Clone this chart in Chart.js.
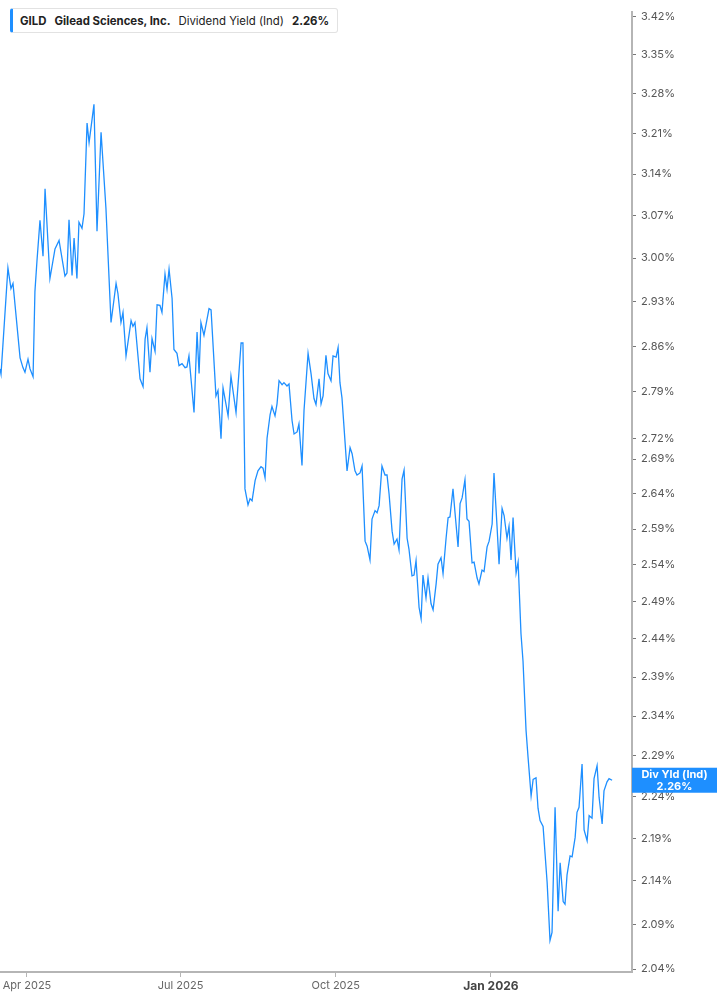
<!DOCTYPE html>
<html>
<head>
<meta charset="utf-8">
<script src="https://cdn.jsdelivr.net/npm/chart.js@4.4.1/dist/chart.umd.min.js"></script>
<style>
  body { margin: 0; background: #fff; font-family: Inter, "Noto Sans", sans-serif; }
  #wrap { position: relative; width: 717px; height: 1005px; }
  #legend {
    position: absolute; left: 10px; top: 8px; height: 25px; width: 328px;
    box-sizing: border-box; border: 1px solid #e2e2e2; border-left: 3px solid #1e8fff;
    border-radius: 3px; background: #fff; display: flex; align-items: center;
    padding-left: 7px; font-size: 11.4px; color: #222; white-space: nowrap;
  }
  #legend b { font-weight: 700; }
  #legend span { margin-right: 8px; }
</style>
</head>
<body>
<div id="wrap">
  <canvas id="chartCanvas" width="717" height="1005"></canvas>
  <div id="legend">
    <span><b>GILD</b></span>
    <span><b>Gilead Sciences, Inc.</b></span>
    <span>Dividend Yield (Ind)</span>
    <span><b>2.26%</b></span>
  </div>
</div>
<script>
"use strict";

// days counted from 1 Mar 2025
const days = [
  15.0, 15.6, 19.7, 21.5, 22.7, 26.9, 28.6, 29.8, 31.6, 32.8, 34.6, 35.7, 36.9, 38.7, 40.5, 41.7,
  44.6, 47.6, 50.0, 53.5, 54.7, 55.9, 57.7, 58.9, 60.6, 61.8, 63.6, 64.8, 66.6, 67.8, 70.7, 72.5,
  74.9, 77.8, 80.8, 83.8, 84.9, 86.7, 87.9, 89.7, 92.7, 93.8, 95.0, 98.0, 99.8, 101.0, 102.1, 103.9,
  105.1, 106.9, 108.1, 109.8, 111.0, 112.8, 114.0, 115.2, 117.0, 118.1, 119.9, 121.1, 122.9, 124.7,
  125.8, 127.0, 130.0, 131.8, 133.0, 134.1, 135.9, 138.9, 140.1, 143.0, 144.2, 146.0, 147.2, 150.2,
  151.9, 154.9, 157.9, 159.0, 160.2, 162.0, 163.2, 164.4, 166.2, 167.9, 169.7, 170.9, 172.1, 173.3,
  175.1, 176.2, 178.0, 179.2, 180.4, 182.2, 183.3, 185.1, 186.3, 188.1, 189.3, 191.1, 192.2, 194.0,
  195.2, 197.6, 199.4, 201.1, 202.3, 204.1, 205.3, 206.5, 208.2, 209.4, 211.2, 212.4, 214.2, 215.4,
  216.5, 217.7, 220.7, 222.5, 223.7, 225.4, 226.6, 228.4, 229.6, 231.4, 232.6, 234.3, 235.5, 237.3,
  238.5, 239.7, 241.4, 243.2, 244.4, 245.6, 247.4, 248.6, 250.3, 251.5, 253.3, 254.5, 256.3, 257.4,
  259.2, 260.4, 261.6, 263.4, 264.6, 265.7, 267.5, 268.7, 270.5, 271.7, 273.5, 274.6, 276.4, 277.6,
  279.4, 280.6, 281.7, 283.5, 284.7, 286.5, 287.7, 288.9, 290.6, 291.8, 293.0, 294.8, 296.0, 297.8,
  298.9, 300.7, 301.9, 303.7, 304.9, 306.7, 307.8, 309.6, 310.8, 312.6, 313.8, 315.5, 316.7, 317.9,
  319.1, 320.9, 322.1, 323.8, 325.0, 326.8, 328.0, 329.8, 331.0, 332.7, 333.9, 335.1, 336.9, 339.3,
  341.0, 342.2, 344.0, 345.8, 347.0, 348.8, 349.9, 351.1, 352.9, 354.1, 355.9, 357.0, 358.2, 360.0,
  361.2, 363.0, 364.2, 365.9, 367.1, 368.9, 370.1, 371.9, 373.0, 374.8, 376.0, 377.8
];

const yields = [
  2.825, 2.817, 2.984, 2.951, 2.959, 2.842, 2.827, 2.820, 2.840, 2.825, 2.813, 2.946, 2.995, 3.062, 3.003, 3.115,
  2.967, 3.015, 3.029, 2.971, 2.976, 3.063, 2.972, 3.033, 2.967, 3.059, 3.049, 3.073, 3.228, 3.194, 3.261, 3.044,
  3.212, 3.082, 2.897, 2.959, 2.943, 2.897, 2.913, 2.845, 2.900, 2.891, 2.897, 2.810, 2.798, 2.871, 2.889, 2.820,
  2.872, 2.852, 2.925, 2.924, 2.913, 2.974, 2.950, 2.982, 2.935, 2.855, 2.849, 2.830, 2.833, 2.827,
  2.828, 2.845, 2.759, 2.882, 2.818, 2.897, 2.877, 2.919, 2.917, 2.784, 2.792, 2.720, 2.796, 2.754,
  2.814, 2.759, 2.865, 2.865, 2.647, 2.624, 2.633, 2.630, 2.659, 2.673, 2.679, 2.677, 2.663, 2.721,
  2.756, 2.768, 2.754, 2.772, 2.807, 2.801, 2.804, 2.799, 2.802, 2.747, 2.727, 2.730, 2.742, 2.681,
  2.762, 2.849, 2.817, 2.780, 2.771, 2.810, 2.772, 2.784, 2.846, 2.818, 2.807, 2.845, 2.843, 2.858,
  2.804, 2.781, 2.673, 2.707, 2.698, 2.673, 2.667, 2.670, 2.680, 2.573, 2.566, 2.547, 2.604, 2.616,
  2.613, 2.623, 2.680, 2.667, 2.667, 2.640, 2.587, 2.569, 2.576, 2.561, 2.661, 2.674, 2.577, 2.562,
  2.525, 2.526, 2.546, 2.482, 2.467, 2.526, 2.495, 2.522, 2.487, 2.479, 2.514, 2.541, 2.550, 2.528,
  2.577, 2.606, 2.607, 2.647, 2.613, 2.565, 2.626, 2.634, 2.660, 2.604, 2.601, 2.543, 2.544, 2.522,
  2.514, 2.533, 2.531, 2.565, 2.573, 2.597, 2.670, 2.594, 2.541, 2.619, 2.609, 2.577, 2.594, 2.547,
  2.606, 2.529, 2.544, 2.447, 2.411, 2.322, 2.288, 2.241, 2.261, 2.263, 2.226, 2.211, 2.204, 2.138,
  2.072, 2.081, 2.227, 2.105, 2.161, 2.116, 2.113, 2.147, 2.169, 2.168, 2.191, 2.221, 2.227, 2.280,
  2.200, 2.187, 2.217, 2.214, 2.262, 2.278, 2.239, 2.207, 2.247, 2.258, 2.262, 2.260
];

const yTicks = [3.42, 3.35, 3.28, 3.21, 3.14, 3.07, 3.00, 2.93, 2.86, 2.79, 2.72, 2.69, 2.64,
  2.59, 2.54, 2.49, 2.44, 2.39, 2.34, 2.29, 2.24, 2.19, 2.14, 2.09, 2.04];
const xTickDays = [31, 122, 214, 306];
const xTickLabels = ["Apr 2025", "Jul 2025", "Oct 2025", "Jan 2026"];

const lastLabel = ["Div Yld (Ind)", "2.26%"];
const lastValue = 2.26;

const lineBlue = "#1e8fff";

// blue value tag on the right axis
const lastTag = {
  id: "lastTag",
  afterDraw(chart) {
    const ctx = chart.ctx;
    const y = chart.scales.y.getPixelForValue(lastValue);
    const left = chart.chartArea.right;
    ctx.save();
    ctx.fillStyle = lineBlue;
    ctx.fillRect(left, y - 12.5, chart.width - left, 25);
    ctx.fillStyle = "#fff";
    ctx.font = "bold 11px Inter, 'Noto Sans', sans-serif";
    ctx.textAlign = "center";
    ctx.textBaseline = "middle";
    const cx = left + (chart.width - left) / 2;
    ctx.fillText(lastLabel[0], cx, y - 6);
    ctx.fillText(lastLabel[1], cx, y + 6);
    ctx.restore();
  }
};

document.addEventListener("DOMContentLoaded", () => {
  const ctx = document.querySelector("#chartCanvas").getContext("2d");

  new Chart(ctx, {
    type: "line",
    data: {
      datasets: [{
        data: days.map((d, i) => ({ x: d, y: yields[i] })),
        borderColor: lineBlue,
        borderWidth: 1.3,
        pointRadius: 0,
        tension: 0,
        fill: false
      }]
    },
    options: {
      responsive: false,
      animation: false,
      layout: { padding: { top: 7, left: 0, right: 0, bottom: 0 } },
      plugins: {
        legend: { display: false },
        tooltip: { enabled: false }
      },
      scales: {
        x: {
          type: "linear",
          min: 15,
          max: 389.6,
          afterBuildTicks: s => { s.ticks = xTickDays.map(v => ({ value: v })); },
          afterFit: s => { s.height = 33; },
          grid: { drawOnChartArea: false, drawTicks: true, tickLength: 5, color: "#b5b5b5" },
          border: { display: true, color: "#b5b5b5", width: 2 },
          ticks: {
            padding: 2,
            maxRotation: 0,
            autoSkip: false,
            color: c => (c.tick && c.tick.value === 306 ? "#444" : "#666"),
            font: c => (c.tick && c.tick.value === 306
              ? { family: "Inter", size: 12, weight: "bold" }
              : { family: "Inter", size: 11 }),
            callback: v => xTickLabels[xTickDays.indexOf(v)]
          }
        },
        y: {
          type: "logarithmic",
          position: "right",
          min: 2.0367,
          max: 3.4293,
          afterBuildTicks: s => { s.ticks = yTicks.map(v => ({ value: v })); },
          afterFit: s => { s.width = 85; },
          grid: { drawOnChartArea: false, drawTicks: true, tickLength: 4, color: "#777" },
          border: { display: true, color: "#b5b5b5", width: 2 },
          ticks: {
            padding: 5,
            autoSkip: false,
            color: "#555",
            font: { family: "Inter", size: 11 },
            callback: v => v.toFixed(2) + "%"
          }
        }
      }
    },
    plugins: [lastTag]
  });
});
</script>
</body>
</html>
